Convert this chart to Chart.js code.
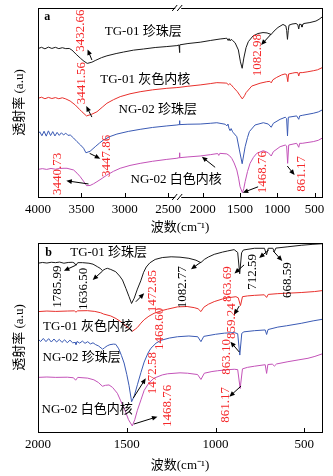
<!DOCTYPE html>
<html><head><meta charset="utf-8">
<script src="https://cdn.jsdelivr.net/npm/chart.js@4/dist/chart.umd.min.js"></script>
<style>
html,body{margin:0;padding:0;background:#fff;width:333px;height:476px;overflow:hidden}
canvas{position:absolute;left:0}
#ca{top:0;width:333px;height:240px}
#cb{top:235px;width:333px;height:241px}
</style></head><body>
<canvas id="ca" width="333" height="240"></canvas>
<canvas id="cb" width="333" height="241"></canvas>
<script>
// ---------- FTIR spectra: [wavenumber (cm-1), transmittance (a.u.)] ----------
// Panel a: full range 4000-400 cm-1
const A_TG01_PEARL = [[4000,78.5],[3960,79.2],[3920,78.4],[3880,79.3],[3840,78.6],[3800,79.2],[3760,78.5],[3720,79.0],[3680,78.5],[3640,78.6],[3610,77.8],[3560,75.5],[3513,73.5],[3470,71.8],[3432.66,70.7],[3380,71.3],[3341,72.2],[3270,73.7],[3206,74.7],[3100,75.9],[3015,76.7],[2900,77.7],[2785,78.3],[2650,79.1],[2516,79.6],[2400,80.1],[2320,80.4],[2314,76.4],[2308,80.5],[2200,81.2],[2036,81.9],[1900,82.8],[1768,83.6],[1700,83.9],[1678,84.0],[1660,82.8],[1648,83.8],[1634,82.6],[1620,83.4],[1603,82.9],[1567,81.6],[1523,77.8],[1495,71.5],[1472,68.1],[1450,73.5],[1420,79.0],[1389,82.2],[1326,85.2],[1259,86.5],[1192,87.0],[1138,86.8],[1082.98,86.0],[1044,87.8],[991,89.7],[924,91.3],[885,90.5],[874,88.0],[863.69,83.4],[853,88.0],[843,90.9],[803,91.5],[749,91.8],[725,91.2],[712.59,88.9],[700,91.5],[680,91.2],[668.59,89.9],[655,91.6],[642,91.8],[562,92.3],[481,93.1],[440,94.0],[400,95.2]];
const A_TG01_GRAY = [[4000,52.2],[3960,52.8],[3920,52.0],[3880,52.7],[3840,52.1],[3800,52.6],[3760,52.0],[3720,52.5],[3680,51.9],[3630,50.8],[3571,48.7],[3520,46.3],[3494,45.1],[3441.56,42.9],[3380,43.8],[3321,45.1],[3260,47.5],[3206,49.6],[3130,51.5],[3053,53.1],[2940,54.6],[2823,55.7],[2680,56.7],[2516,57.5],[2400,57.9],[2320,58.0],[2200,58.6],[2036,59.3],[1900,60.0],[1812,60.5],[1700,60.3],[1678,60.2],[1655,59.3],[1640,60.0],[1620,59.4],[1590,58.0],[1536,55.7],[1500,53.6],[1470,51.9],[1440,53.6],[1420,55.2],[1343,58.7],[1232,60.2],[1142,61.0],[1100,61.2],[1082,60.4],[1060,62.0],[1008,63.3],[941,64.6],[897,65.1],[875,64.8],[859.24,61.0],[848,65.1],[800,65.5],[763,65.8],[725,65.8],[712,64.0],[700,65.8],[666,65.8],[600,66.2],[517,66.8],[460,67.3],[400,68.4]];
const A_NG02_PEARL = [[4000,33.3],[3980,34.5],[3955,32.4],[3930,34.8],[3905,32.2],[3880,35.0],[3855,32.5],[3830,34.6],[3805,32.3],[3780,34.2],[3755,32.6],[3730,34.0],[3705,32.8],[3680,33.8],[3655,32.6],[3628,32.8],[3590,31.2],[3551,29.3],[3510,27.5],[3475,25.8],[3447.86,23.4],[3400,24.2],[3341,26.6],[3290,28.6],[3245,30.2],[3170,32.0],[3091,33.3],[2960,34.7],[2823,35.8],[2680,36.8],[2516,37.6],[2400,38.1],[2320,38.3],[2314,40.4],[2308,38.3],[2200,38.5],[2036,38.6],[1900,39.0],[1812,39.3],[1700,38.5],[1678,37.6],[1662,38.6],[1648,36.2],[1634,35.1],[1620,36.2],[1600,34.5],[1590,34.0],[1544,31.9],[1509,24.9],[1472,17.6],[1432,26.6],[1400,31.5],[1375,34.6],[1299,38.1],[1188,39.3],[1121,38.6],[1082,36.9],[1053,39.0],[963,41.1],[893,42.2],[875,41.5],[863.10,32.3],[852,42.2],[740,42.9],[712,41.1],[700,42.9],[666,43.2],[517,44.3],[450,45.0],[400,46.0]];
const A_NG02_WHITE = [[4000,14.6],[3950,15.0],[3900,14.6],[3850,15.1],[3800,14.7],[3750,15.1],[3700,15.2],[3666,15.2],[3590,14.3],[3550,12.6],[3513,10.7],[3470,8.0],[3440.73,6.0],[3400,6.1],[3360,7.0],[3321,8.1],[3260,9.9],[3206,11.6],[3130,13.6],[3053,15.2],[2940,16.7],[2823,17.8],[2680,18.9],[2516,19.9],[2400,20.5],[2320,20.8],[2314,23.4],[2308,20.8],[2200,21.2],[2036,21.7],[1900,22.4],[1800,23.0],[1786,22.0],[1772,23.1],[1678,22.8],[1640,21.8],[1611,20.4],[1580,18.0],[1544,14.3],[1520,10.0],[1500,5.4],[1468.76,2.3],[1450,4.5],[1432,8.1],[1400,13.5],[1366,17.8],[1320,21.0],[1276,23.1],[1188,24.5],[1121,23.4],[1082,21.7],[1053,24.0],[963,26.6],[893,27.5],[875,27.0],[861.17,17.8],[847,27.5],[740,28.4],[712,26.3],[700,28.4],[666,28.4],[517,29.3],[450,30.0],[400,31.1]];

// Panel b: fingerprint region 2000-400 cm-1
const B_TG01_PEARL = [[2000,89.3],[1975,89.7],[1950,89.4],[1925,89.8],[1901,89.6],[1878,89.9],[1854,89.3],[1830,89.7],[1807,89.8],[1796,89.5],[1786,88.2],[1776,89.6],[1750,89.6],[1713,89.3],[1690,88.8],[1666,87.5],[1650,86.6],[1636.5,85.4],[1620,86.3],[1609,86.6],[1590,86.0],[1562,84.8],[1540,82.5],[1524,80.4],[1505,76.0],[1487,71.6],[1472.85,68.0],[1458,70.8],[1440,75.6],[1421,80.0],[1405,84.5],[1390,87.3],[1370,89.5],[1340,91.3],[1300,92.3],[1250,92.7],[1200,92.5],[1150,91.9],[1110,90.9],[1082.77,89.6],[1063,91.3],[1040,92.6],[1007,94.0],[960,95.2],[931,95.8],[895,96.5],[875,95.0],[863.69,83.7],[853,94.8],[843,96.3],[781,97.2],[724,97.2],[712.59,93.7],[703,97.2],[677,97.2],[668.59,95.4],[660,97.3],[592,98.0],[517,98.8],[451,99.3],[400,99.6]];
const B_TG01_GRAY = [[2000,63.7],[1950,64.0],[1900,63.8],[1835,64.0],[1795,64.1],[1786,63.4],[1777,64.1],[1722,64.2],[1680,63.8],[1647,63.1],[1630,62.4],[1590,61.4],[1560,60.0],[1534,58.4],[1510,56.5],[1487,54.9],[1468.6,53.3],[1452,54.4],[1440,55.3],[1420,57.6],[1402,59.4],[1375,61.3],[1346,62.8],[1300,64.3],[1270,65.0],[1214,66.2],[1160,66.4],[1120,65.8],[1098,65.2],[1082,63.7],[1066,66.0],[1040,67.6],[1007,69.0],[960,70.4],[931,71.0],[885,71.6],[872,71.0],[859.24,66.9],[848,71.6],[820,72.0],[781,72.3],[725,72.6],[712,71.2],[703,72.8],[649,73.2],[580,73.5],[517,73.8],[442,74.3],[400,74.8]];
const B_NG02_PEARL = [[2000,49.2],[1985,47.9],[1970,49.5],[1955,47.8],[1940,49.4],[1925,47.6],[1910,49.2],[1895,47.6],[1880,49.0],[1865,47.4],[1850,48.8],[1835,47.2],[1820,48.6],[1805,47.2],[1790,47.4],[1786,46.3],[1780,47.9],[1765,47.0],[1750,48.1],[1735,46.9],[1720,47.8],[1705,46.6],[1690,47.2],[1675,46.2],[1660,45.6],[1645,44.5],[1636,43.8],[1625,44.6],[1610,45.6],[1595,46.2],[1575,46.5],[1562,46.4],[1545,44.0],[1530,40.5],[1515,36.5],[1500,30.5],[1487,24.5],[1472.58,16.0],[1458,19.0],[1440,25.0],[1420,31.5],[1402,37.0],[1380,41.8],[1364,44.3],[1335,47.0],[1308,48.5],[1260,49.7],[1214,50.4],[1150,50.8],[1100,50.4],[1082,47.8],[1066,50.6],[1000,51.7],[950,52.3],[894,52.6],[875,52.0],[863.10,40.7],[852,52.2],[840,53.0],[781,53.6],[720,54.0],[712,51.6],[704,54.2],[649,55.5],[600,56.2],[517,57.5],[450,58.8],[400,59.6]];
const B_NG02_WHITE = [[2000,28.9],[1950,29.1],[1900,28.9],[1835,29.0],[1800,28.7],[1788,27.4],[1776,28.9],[1720,28.5],[1685,27.6],[1660,26.2],[1637,24.2],[1620,24.7],[1600,24.9],[1580,23.6],[1553,20.5],[1534,16.5],[1506,10.5],[1490,6.5],[1468.76,3.2],[1455,6.5],[1440,11.5],[1420,17.0],[1402,22.0],[1375,26.0],[1346,28.5],[1300,30.2],[1270,30.8],[1200,31.3],[1157,31.1],[1101,30.4],[1082,27.8],[1063,31.1],[1020,32.0],[988,32.4],[940,32.9],[894,33.2],[875,33.0],[861.17,23.0],[848,33.4],[820,34.2],[781,34.8],[720,35.6],[712,31.0],[705,35.7],[680,35.9],[668,34.9],[656,36.0],[592,37.2],[530,38.2],[479,39.0],[440,40.0],[400,41.3]];

const TICKS_A = [4000, 3500, 3000, 2500, 2000, 1500, 1000, 500];
const TICKS_B = [2000, 1500, 1000, 500];

// Sample names and peak labels: [text, wavenumber, transmittance]
const NAMES_A = [['TG-01 珍珠层', 2788, 87.3], ['TG-01 灰色内核', 2765, 61.9], ['NG-02 珍珠层', 2621, 46.0], ['NG-02 白色内核', 2408, 9.4]];
const PEAKS_A = [['3432.66', 3513, 88.0], ['1082.98', 1265, 75.1], ['3441.56', 3494, 60.2], ['3447.86', 3214, 21.7], ['3440.73', 3774, 12.2], ['1468.76', 1195, 13.2], ['861.17', 673, 12.2]];
const PEAK_COLORS_A = ['red', 'red', 'red', 'red', 'red', 'red', 'red'];
const ARROWS_A = [[3379, 72.5, 3429, 78.1], [1083, 86.2, 1218, 80.4], [3379, 42.3, 3444, 48.1], [3405, 23.1, 3283, 20.3], [3418, 6.9, 3674, 8.6], [1835, 15.7, 2013, 21.3], [1258, 5.4, 1464, 2.3], [866, 16.4, 768, 11.6]];

const NAMES_B = [['TG-01 珍珠层', 1602, 94.7], ['TG-01 灰色内核', 1718, 55.6], ['NG-02 珍珠层', 1754, 39.2], ['NG-02 白色内核', 1723, 11.6]];
const PEAKS_B = [['1785.99', 1888, 76.9], ['1636.50', 1741, 75.7], ['1472.85', 1355, 74.6], ['1082.77', 1185, 76.7], ['863.69', 931, 78.3], ['712.59', 790, 84.7], ['668.59', 592, 80.4], ['1468.60', 1314, 54.5], ['859.24', 912, 58.7], ['1472.58', 1355, 31.2], ['863.10', 940, 39.7], ['1468.76', 1270, 13.8], ['861.17', 946, 14.3]];
const PEAK_COLORS_B = ['black', 'black', 'red', 'black', 'red', 'black', 'black', 'red', 'red', 'red', 'red', 'red', 'red'];
const ARROWS_B = [[1788, 88.2, 1854, 85.3], [1636, 85.2, 1692, 80.4], [1449, 68.9, 1402, 73.4], [1082, 89.9, 1138, 86.1], [839, 88.4, 893, 83.9], [700, 96.3, 754, 92.1], [675, 95.8, 624, 90.5], [866, 66.7, 895, 62.0], [1463, 18.0, 1393, 28.4], [866, 42.3, 916, 47.8], [1460, 4.2, 1327, 8.1], [856, 24.3, 922, 18.7]];

// ---------- broken wavenumber axis of panel a ----------
// 4000-2385 cm-1 on the left, 2331-400 cm-1 compressed on the right
const SEG_L_END = 2385, SEG_R_START = 2331, SEG_R_RATIO = 0.858;
function uA(w) {
  if (w >= SEG_L_END) return 4000 - w;
  const base = 4000 - SEG_L_END;
  if (w <= SEG_R_START) return base + (SEG_R_START - w) * SEG_R_RATIO;
  return base;
}
const idB = w => w;

const COLORS = { black: '#1a1a1a', red: '#e8302c', blue: '#3a5ab4', magenta: '#c352b8' };
const TEXT_RED = '#f5282a';
const FONT = '"Liberation Serif","Noto Sans CJK SC",serif';

function series(pts, mapX, color) {
  return {
    data: pts.map(([w, v]) => ({ x: mapX(w), y: v })),
    borderColor: color, borderWidth: 1, pointRadius: 0, fill: false, tension: 0
  };
}

function drawArrow(ctx, x1, y1, x2, y2, color) {
  const ang = Math.atan2(y2 - y1, x2 - x1), L = 5.5, H = 2.4;
  ctx.strokeStyle = color; ctx.fillStyle = color; ctx.lineWidth = 1;
  ctx.beginPath(); ctx.moveTo(x1, y1);
  ctx.lineTo(x2 - Math.cos(ang) * L * 0.8, y2 - Math.sin(ang) * L * 0.8); ctx.stroke();
  ctx.beginPath(); ctx.moveTo(x2, y2);
  ctx.lineTo(x2 - L * Math.cos(ang) + H * Math.sin(ang), y2 - L * Math.sin(ang) - H * Math.cos(ang));
  ctx.lineTo(x2 - L * Math.cos(ang) - H * Math.sin(ang), y2 - L * Math.sin(ang) + H * Math.cos(ang));
  ctx.closePath(); ctx.fill();
}

function decorations(cfg) {
  return {
    id: 'decor',
    afterDatasetsDraw(chart) {
      const { ctx, chartArea: a, scales: { x, y } } = chart;
      const px = w => x.getPixelForValue(cfg.mapX(w));
      const py = v => y.getPixelForValue(v);
      ctx.save();
      // frame
      ctx.strokeStyle = '#000'; ctx.lineWidth = 1;
      ctx.strokeRect(Math.round(a.left) + 0.5, Math.round(a.top) + 0.5, Math.round(a.right - a.left), Math.round(a.bottom - a.top));
      // inward tick marks
      ctx.beginPath();
      x.ticks.forEach(t => {
        const xp = Math.round(x.getPixelForValue(t.value)) + 0.5;
        ctx.moveTo(xp, a.bottom); ctx.lineTo(xp, a.bottom - 4);
      });
      ctx.stroke();
      // axis break marks
      if (cfg.breakAt) {
        const xb = x.getPixelForValue(cfg.mapX(cfg.breakAt));
        [a.top, a.bottom].forEach(yb => {
          ctx.fillStyle = '#fff';
          ctx.fillRect(xb - 3, yb - 1.5, 6, 3);
          ctx.beginPath();
          ctx.moveTo(xb - 6, yb + 3); ctx.lineTo(xb - 1, yb - 3);
          ctx.moveTo(xb - 1, yb + 3); ctx.lineTo(xb + 4, yb - 3);
          ctx.stroke();
        });
      }
      // panel letter
      ctx.fillStyle = '#000';
      ctx.font = 'bold 12px ' + FONT;
      ctx.textAlign = 'center'; ctx.textBaseline = 'middle';
      ctx.fillText(cfg.letter[0], px(cfg.letter[1]), py(cfg.letter[2]));
      // sample names
      ctx.font = '13px ' + FONT;
      cfg.names.forEach(([t, w, v]) => ctx.fillText(t, px(w), py(v)));
      // peak labels (rotated)
      cfg.peaks.forEach(([t, w, v], i) => {
        ctx.save();
        ctx.translate(px(w), py(v));
        ctx.rotate(-Math.PI / 2);
        ctx.fillStyle = cfg.peakColors[i] === 'red' ? TEXT_RED : '#000';
        ctx.fillText(t, 0, 0);
        ctx.restore();
      });
      // arrows
      cfg.arrows.forEach(([w1, v1, w2, v2]) => drawArrow(ctx, px(w1), py(v1), px(w2), py(v2), '#000'));
      ctx.restore();
    }
  };
}

function makeChart(id, opts) {
  const tickFont = { family: FONT, size: 13 };
  return new Chart(document.getElementById(id), {
    type: 'line',
    data: {
      datasets: [
        series(opts.s[0], opts.mapX, COLORS.black),
        series(opts.s[1], opts.mapX, COLORS.red),
        series(opts.s[2], opts.mapX, COLORS.blue),
        series(opts.s[3], opts.mapX, COLORS.magenta)
      ]
    },
    options: {
      responsive: false, animation: false, devicePixelRatio: 1,
      layout: { padding: { top: 8, right: 11, left: 0, bottom: 0 } },
      plugins: { legend: { display: false }, tooltip: { enabled: false } },
      scales: {
        x: {
          type: 'linear', min: opts.xmin, max: opts.xmax, reverse: opts.reverse,
          afterBuildTicks: s => { s.ticks = opts.ticks.map(w => ({ value: opts.mapX(w) })); },
          ticks: { callback: (v, i) => String(opts.ticks[i]), autoSkip: false, maxRotation: 0, font: tickFont, color: '#000', padding: 5 },
          grid: { display: false, drawTicks: false }, border: { display: false },
          title: { display: true, text: '波数(cm⁻¹)', font: tickFont, color: '#000', padding: { top: 0, bottom: opts.titlePad } },
          afterFit: s => { s.height = opts.xh; }
        },
        y: {
          min: 0, max: 100,
          ticks: { display: false }, grid: { display: false, drawTicks: false }, border: { display: false },
          title: { display: true, text: '透射率 (a.u)', font: tickFont, color: '#000', padding: { top: 12, bottom: 0 } },
          afterFit: s => { s.width = 38; }
        }
      }
    },
    plugins: [decorations(opts)]
  });
}

makeChart('ca', {
  s: [A_TG01_PEARL, A_TG01_GRAY, A_NG02_PEARL, A_NG02_WHITE],
  mapX: uA, xmin: 0, xmax: uA(400), reverse: false, ticks: TICKS_A, xh: 43, titlePad: 5,
  breakAt: 2360, letter: ['a', 3893, 95.2], names: NAMES_A, peaks: PEAKS_A, peakColors: PEAK_COLORS_A, arrows: ARROWS_A
});
makeChart('cb', {
  s: [B_TG01_PEARL, B_TG01_GRAY, B_NG02_PEARL, B_NG02_WHITE],
  mapX: idB, xmin: 400, xmax: 2000, reverse: true, ticks: TICKS_B, xh: 44, titlePad: 3,
  breakAt: null, letter: ['b', 1941, 94.7], names: NAMES_B, peaks: PEAKS_B, peakColors: PEAK_COLORS_B, arrows: ARROWS_B
});
</script></body></html>
